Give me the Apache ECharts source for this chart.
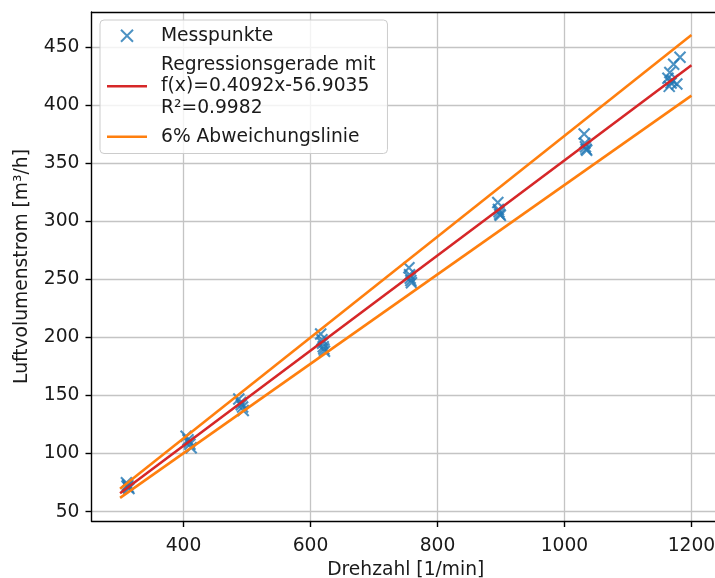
<!DOCTYPE html>
<html>
<head>
<meta charset="utf-8">
<script src="https://cdn.jsdelivr.net/npm/echarts@6/dist/echarts.min.js"></script>
<style>
html,body{margin:0;padding:0;background:#fff;}
#chart{width:715px;height:578px;}
</style>
</head>
<body>
<div id="chart"></div>
<script>
// Measured points (Drehzahl [1/min], Luftvolumenstrom [m³/h])
const messX = [310, 312, 313, 311, 314,
               404, 407, 409, 410, 412,
               487, 490, 491, 493, 494,
               616, 618, 619, 620, 621, 622,
               755, 756, 757, 758, 759,
               895, 896, 897, 898, 899,
               1031, 1032, 1033, 1034, 1035,
               1182, 1172, 1166, 1163, 1168, 1177, 1165, 1170];
const messY = [75, 73, 71, 72, 70,
               115, 112, 110, 108, 105,
               147, 144, 142, 140, 137,
               203, 198, 195, 192, 190, 188,
               260, 254, 251, 249, 247,
               316, 310, 308, 306, 305,
               375, 367, 364, 362, 361,
               441, 435, 428, 423, 419, 418, 416, 421];
// Line endpoints
const lineX = [300, 1200];
const regY = [65.86, 434.14];
const upperY = [69.81, 460.19];
const lowerY = [61.91, 408.09];
// Ticks
const xTicks = [400, 600, 800, 1000, 1200];
const yTicks = [50, 100, 150, 200, 250, 300, 350, 400, 450];
const legendNames = ['Messpunkte', 'Regressionsgerade mit\nf(x)=0.4092x-56.9035\nR²=0.9982', '6% Abweichungslinie'];

const FONT = 'DejaVu Sans';
const FS = 18.7;
const pair = (xs, ys) => xs.map((x, i) => [x, ys[i]]);

const chart = echarts.init(document.getElementById('chart'), null, {renderer: 'canvas'});
const spine = {show: true, onZero: false, lineStyle: {color: '#000', width: 1.4}};
const tick = {show: true, length: 6, lineStyle: {color: '#000', width: 1.4}};
const grid = {show: true, lineStyle: {color: '#c4c4c4', width: 1.3}};
const lbl = {fontFamily: FONT, fontSize: FS, color: '#1a1a1a', formatter: v => String(v)};
const XMIN = 255, XMAX = 1245;
chart.setOption({
  animation: false,
  backgroundColor: '#fff',
  grid: {left: 91.5, right: -5, top: 12, bottom: 57, outerBoundsMode: 'none', containLabel: false},
  xAxis: [{
    type: 'value', min: XMIN, max: XMAX, position: 'bottom',
    name: 'Drehzahl [1/min]', nameLocation: 'middle', nameGap: 38,
    nameTextStyle: {fontFamily: FONT, fontSize: FS, color: '#1a1a1a'},
    axisLine: spine,
    axisTick: Object.assign({}, tick, {customValues: xTicks}),
    axisLabel: Object.assign({}, lbl, {customValues: xTicks, margin: 16}),
    splitLine: grid
  }, {
    type: 'value', min: XMIN, max: XMAX, position: 'top',
    axisLine: spine, axisTick: {show: false}, axisLabel: {show: false}, splitLine: {show: false}
  }],
  yAxis: {
    type: 'value', min: 42, max: 480,
    name: 'Luftvolumenstrom [m³/h]', nameLocation: 'middle', nameGap: 60,
    nameTextStyle: {fontFamily: FONT, fontSize: FS, color: '#1a1a1a'},
    axisLine: spine,
    axisTick: Object.assign({}, tick, {customValues: yTicks}),
    axisLabel: Object.assign({}, lbl, {customValues: yTicks, margin: 12}),
    splitLine: grid
  },
  legend: {
    orient: 'vertical', left: 100, top: 20,
    padding: [5, 12, 6, 7],
    itemGap: 7.5, itemWidth: 40, itemHeight: 12,
    backgroundColor: 'rgba(255,255,255,0.8)',
    borderColor: '#cccccc', borderWidth: 1, borderRadius: 4,
    textStyle: {fontFamily: FONT, fontSize: FS, color: '#1a1a1a', lineHeight: 21.5, padding: [0, 0, 0, 9]},
    data: [
      {name: legendNames[0]},
      {name: legendNames[1], icon: 'path://M0,0L40,0L40,2.6L0,2.6Z', itemStyle: {color: '#d62728'}},
      {name: legendNames[2], icon: 'path://M0,0L40,0L40,2.6L0,2.6Z', itemStyle: {color: '#ff7f0e'}}
    ]
  },
  series: [
    {
      name: legendNames[0], type: 'scatter', z: 1,
      data: pair(messX, messY),
      symbol: 'path://M0,0L10,10M10,0L0,10', symbolSize: 11,
      itemStyle: {color: 'rgba(0,0,0,0)', borderColor: '#1f77b4', borderWidth: 2.1}
    },
    {
      name: legendNames[1], type: 'line', z: 3,
      data: pair(lineX, regY), showSymbol: false, symbol: 'none',
      lineStyle: {color: '#d62728', width: 2.6}, itemStyle: {color: '#d62728'}
    },
    {
      name: legendNames[2], type: 'line', z: 3,
      data: pair(lineX, upperY), showSymbol: false, symbol: 'none',
      lineStyle: {color: '#ff7f0e', width: 2.6}, itemStyle: {color: '#ff7f0e'}
    },
    {
      name: legendNames[2], type: 'line', z: 3,
      data: pair(lineX, lowerY), showSymbol: false, symbol: 'none',
      lineStyle: {color: '#ff7f0e', width: 2.6}, itemStyle: {color: '#ff7f0e'}
    }
  ]
});
</script>
</body>
</html>
